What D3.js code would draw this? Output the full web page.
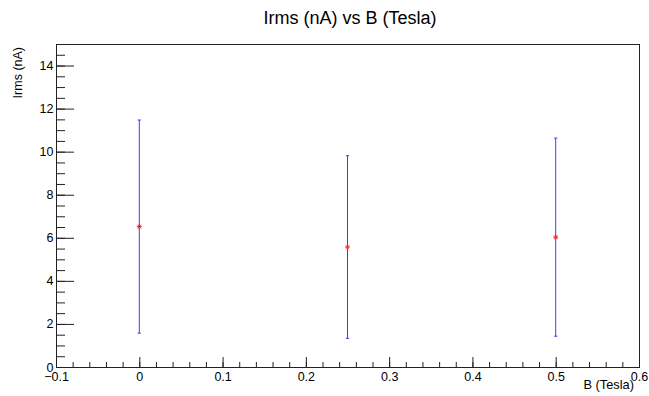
<!DOCTYPE html>
<html>
<head>
<meta charset="utf-8">
<script src="https://cdn.jsdelivr.net/npm/d3@7"></script>
<style>
  html, body { margin: 0; padding: 0; background: #fff; }
  svg { display: block; font-family: "Liberation Sans", Arial, Helvetica, sans-serif; }
</style>
</head>
<body>
<svg id="chart" width="649" height="396"></svg>
<script>
// ---- data ----
const bField   = [0, 0.25, 0.5];
const irms     = [6.52, 5.57, 6.03];
const irmsErr  = [4.95, 4.24, 4.60];
const xMajorTicks = [-0.1, 0, 0.1, 0.2, 0.3, 0.4, 0.5, 0.6];
const yMajorTicks = [0, 2, 4, 6, 8, 10, 12, 14];
const xDomain = [-0.1, 0.6];
const yDomain = [0, 15];
const titleText = "Irms (nA) vs B (Tesla)";
const xTitle = "B (Tesla)";
const yTitle = "Irms (nA)";

// ---- layout ----
const W = 649, H = 396;
const m = { left: 56, right: 10, top: 44, bottom: 29 };
const iw = W - m.left - m.right, ih = H - m.top - m.bottom;

const svg = d3.select("#chart");
svg.append("rect").attr("width", W).attr("height", H).attr("fill", "#fff");
const g = svg.append("g").attr("transform", `translate(${m.left},${m.top})`);

const x = d3.scaleLinear().domain(xDomain).range([0, iw]);
const y = d3.scaleLinear().domain(yDomain).range([ih, 0]);

const fmtX = d => (d < 0 ? "\u2212" + Math.abs(d) : String(+d.toFixed(2)));

// minor ticks
const xMinor = d3.range(-0.1, 0.6001, 0.02).map(v => +v.toFixed(3));
const yMinor = d3.range(0, 15.001, 0.5);

g.append("g").attr("transform", `translate(0,${ih})`)
  .call(d3.axisBottom(x).tickValues(xMinor).tickSize(-5).tickSizeOuter(0).tickFormat(""))
  .call(s => s.select(".domain").remove())
  .selectAll("line").attr("stroke", "#222");

g.append("g")
  .call(d3.axisLeft(y).tickValues(yMinor).tickSize(-9).tickSizeOuter(0).tickFormat(""))
  .call(s => s.select(".domain").remove())
  .selectAll("line").attr("stroke", "#222");

// major ticks
const xAx = g.append("g").attr("transform", `translate(0,${ih})`)
  .call(d3.axisBottom(x).tickValues(xMajorTicks).tickSize(-10).tickSizeOuter(0).tickPadding(5).tickFormat(fmtX))
  .call(s => s.select(".domain").remove());
xAx.selectAll("line").attr("stroke", "#222");
xAx.selectAll("text").attr("font-size", 12.5).attr("fill", "#000")
  .attr("font-family", '"Liberation Sans", Arial, sans-serif');

const yAx = g.append("g")
  .call(d3.axisLeft(y).tickValues(yMajorTicks).tickSize(-18).tickSizeOuter(0).tickPadding(2.5).tickFormat(d => d))
  .call(s => s.select(".domain").remove());
yAx.selectAll("line").attr("stroke", "#222");
yAx.selectAll("text").attr("font-size", 12.5).attr("fill", "#000")
  .attr("font-family", '"Liberation Sans", Arial, sans-serif');

// frame
g.append("rect").attr("x", 0).attr("y", 0).attr("width", iw).attr("height", ih)
  .attr("fill", "none").attr("stroke", "#222").attr("stroke-width", 1)
  .attr("shape-rendering", "crispEdges");

// data: error bars at exact scale positions (antialiased, like the reference)
const pts = bField.map((b, i) => ({ b, v: irms[i], e: irmsErr[i] }));
const eb = g.append("g").attr("stroke", "#3a3aff").attr("stroke-width", 1).attr("fill", "none");
pts.forEach(p => {
  const px = x(p.b);
  const yt = y(p.v + p.e), yb = y(p.v - p.e);
  eb.append("line").attr("x1", px).attr("x2", px).attr("y1", yt).attr("y2", yb);
  eb.append("line").attr("x1", px - 1.6).attr("x2", px + 1.6).attr("y1", yt).attr("y2", yt);
  eb.append("line").attr("x1", px - 1.6).attr("x2", px + 1.6).attr("y1", yb).attr("y2", yb);
});
const mk = g.append("g").attr("stroke", "#ff2020").attr("stroke-width", 1);
pts.forEach(p => {
  const px = x(p.b), py = y(p.v);
  const r = 2.5;
  mk.append("line").attr("x1", px - r).attr("x2", px + r).attr("y1", py).attr("y2", py);
  mk.append("line").attr("x1", px).attr("x2", px).attr("y1", py - r).attr("y2", py + r);
  mk.append("line").attr("x1", px - 1.8).attr("x2", px + 1.8).attr("y1", py - 1.8).attr("y2", py + 1.8);
  mk.append("line").attr("x1", px - 1.8).attr("x2", px + 1.8).attr("y1", py + 1.8).attr("y2", py - 1.8);
});

// titles
svg.append("text").attr("x", 350).attr("y", 24).attr("text-anchor", "middle")
  .attr("font-size", 18).attr("fill", "#000").text(titleText);
svg.append("text").attr("x", 634).attr("y", 389).attr("text-anchor", "end")
  .attr("font-size", 12.8).attr("fill", "#000").text(xTitle);
svg.append("text").attr("transform", "translate(21.5,47) rotate(-90)").attr("text-anchor", "end")
  .attr("font-size", 12.5).attr("fill", "#000").text(yTitle);
</script>
</body>
</html>
